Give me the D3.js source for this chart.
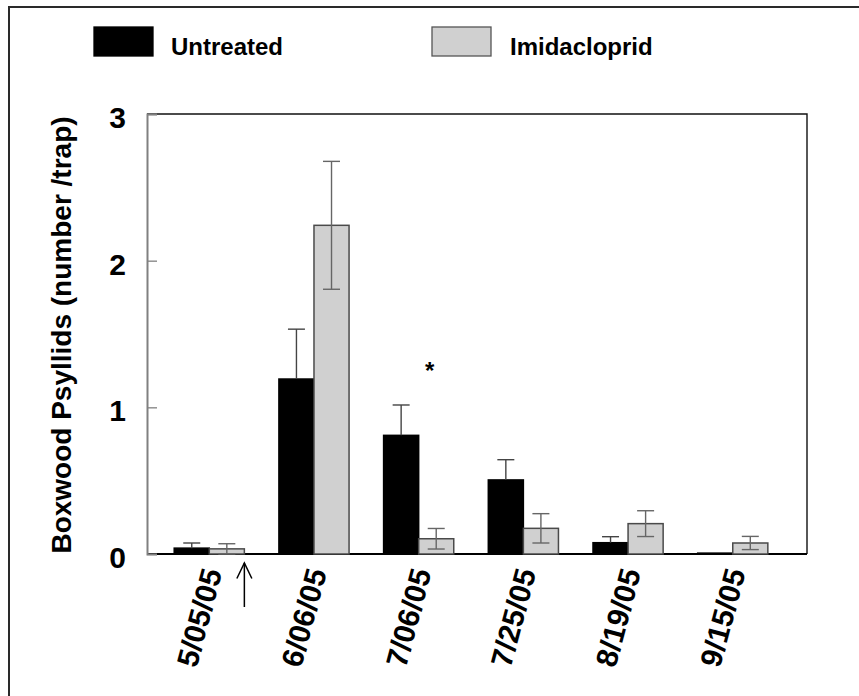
<!DOCTYPE html>
<html>
<head>
<meta charset="utf-8">
<script src="https://cdn.jsdelivr.net/npm/d3@7"></script>
<style>
  html, body { margin: 0; padding: 0; background: #fff; }
  svg { display: block; font-family: "Liberation Sans", Arial, sans-serif; }
</style>
</head>
<body>
<svg id="chart" width="859" height="696"></svg>
<script>
// Sampling dates (x categories)
const dates = ["5/05/05", "6/06/05", "7/06/05", "7/25/05", "8/19/05", "9/15/05"];
const seriesNames = ["Untreated", "Imidacloprid"];

// Mean psyllids per trap and standard errors
const untreated    = [0.04, 1.193, 0.809, 0.505, 0.077, 0.006];
const untreatedSE  = [0.035, 0.34, 0.207, 0.138, 0.041, 0];
const imidacloprid   = [0.035, 2.241, 0.104, 0.175, 0.207, 0.075];
const imidaclopridSE = [0.035, 0.436, 0.07, 0.10, 0.088, 0.045];

// Y axis ticks
const yTicks = [0, 1, 2, 3];

// Significance marker (date, height in y units)
const sigDate = "7/06/05";
const sigLevel = 1.28;
// Treatment arrow placed after this date's bars
const treatmentDate = "5/05/05";

const colors = { Untreated: "#000000", Imidacloprid: "#d0d0d0" };
const strokes = { Untreated: "#000000", Imidacloprid: "#4a4a4a" };
const errColors = { Untreated: "#444444", Imidacloprid: "#666666" };

const svg = d3.select("#chart");
const margin = { left: 147, top: 114 };
const W = 660, H = 440;

// Outer border
svg.append("path")
  .attr("d", "M9,700 L9,7 L865,7")
  .attr("fill", "none").attr("stroke", "#2a2a2a").attr("stroke-width", 2);

const g = svg.append("g").attr("transform", `translate(${margin.left},${margin.top})`);

const x = d3.scaleBand().domain(dates).range([0, W])
  .paddingInner(0.33).paddingOuter(0.317).align(0.41);
const x1 = d3.scaleBand().domain(seriesNames).range([0, x.bandwidth()]);
const y = d3.scaleLinear().domain([0, 3]).range([H, 0]);

const rows = dates.map((d, i) => ({
  date: d,
  vals: [
    { key: "Untreated", v: untreated[i], se: untreatedSE[i] },
    { key: "Imidacloprid", v: imidacloprid[i], se: imidaclopridSE[i] }
  ]
}));

// Plot frame (top / right / bottom)
g.append("path")
  .attr("d", `M0,0 H${W} V${H}`)
  .attr("fill", "none").attr("stroke", "#111").attr("stroke-width", 1.4);
g.append("line")
  .attr("x1", 0).attr("x2", W).attr("y1", H).attr("y2", H)
  .attr("stroke", "#000").attr("stroke-width", 2);

// Bars
const groups = g.selectAll("g.grp").data(rows).join("g")
  .attr("class", "grp")
  .attr("transform", d => `translate(${x(d.date)},0)`);

groups.selectAll("rect").data(d => d.vals).join("rect")
  .attr("x", d => x1(d.key))
  .attr("width", x1.bandwidth())
  .attr("y", d => y(d.v))
  .attr("height", d => y(0) - y(d.v))
  .attr("fill", d => colors[d.key])
  .attr("stroke", d => strokes[d.key])
  .attr("stroke-width", 1.5);

// Error bars (untreated only upward, the lower half is hidden in the black bar)
const capHalf = 8.5;
groups.selectAll("g.err").data(d => d.vals.filter(v => v.se > 0)).join("g")
  .attr("class", "err")
  .each(function (d) {
    const cx = x1(d.key) + x1.bandwidth() / 2;
    const hi = d.v + d.se;
    const lo = d.key === "Untreated" ? d.v : Math.max(0, d.v - d.se);
    const e = d3.select(this).attr("stroke", errColors[d.key]).attr("stroke-width", 1.4);
    e.append("line").attr("x1", cx).attr("x2", cx).attr("y1", y(hi)).attr("y2", y(lo));
    e.append("line").attr("x1", cx - capHalf).attr("x2", cx + capHalf).attr("y1", y(hi)).attr("y2", y(hi));
    if (d.key !== "Untreated") {
      e.append("line").attr("x1", cx - capHalf).attr("x2", cx + capHalf).attr("y1", y(lo)).attr("y2", y(lo));
    }
  });

// Y axis (ticks pointing inward)
const yAxis = g.append("g")
  .call(d3.axisLeft(y).tickValues(yTicks).tickFormat(d3.format("d")).tickSize(-10).tickPadding(31));
yAxis.select(".domain").attr("stroke", "#808080").attr("stroke-width", 2);
yAxis.selectAll(".tick line").attr("stroke", "#808080").attr("stroke-width", 1.3);
yAxis.selectAll(".tick text")
  .attr("x", -21)
  .attr("dy", "0.45em")
  .attr("fill", "#000")
  .style("font-size", "30px").style("font-weight", "bold");

// X axis labels, rotated
const xAxis = g.append("g").attr("transform", `translate(0,${H})`)
  .call(d3.axisBottom(x).tickSize(0));
xAxis.select(".domain").remove();
xAxis.selectAll(".tick text")
  .attr("text-anchor", "end")
  .attr("x", 0).attr("y", 0).attr("dy", 0)
  .attr("transform", "translate(13,18) rotate(-75)")
  .attr("fill", "#000")
  .style("font-size", "30px").style("font-weight", "bold");

// Y axis title
svg.append("text")
  .attr("transform", `translate(71,${margin.top + 221}) rotate(-90)`)
  .attr("text-anchor", "middle")
  .style("font-size", "28px").style("font-weight", "bold")
  .text("Boxwood Psyllids (number /trap)");

// Significance asterisk
g.append("text")
  .attr("x", x(sigDate) + x.bandwidth() / 2 + 11)
  .attr("y", y(sigLevel) + 13)
  .attr("text-anchor", "middle")
  .style("font-size", "24px").style("font-weight", "bold")
  .text("*");

// Treatment arrow
const ax = x(treatmentDate) + x.bandwidth();
const arrow = g.append("g").attr("stroke", "#000").attr("stroke-width", 1.5).attr("fill", "none");
arrow.append("line").attr("x1", ax).attr("x2", ax).attr("y1", H + 9).attr("y2", H + 53);
arrow.append("path").attr("d", `M${ax - 7.5},${H + 24.5} L${ax},${H + 9} L${ax + 7.5},${H + 24.5}`);

// Legend
const legend = svg.append("g");
const legendItems = [
  { key: "Untreated", bx: 94, tx: 171 },
  { key: "Imidacloprid", bx: 432, tx: 510 }
];
legendItems.forEach(it => {
  legend.append("rect")
    .attr("x", it.bx).attr("y", 27).attr("width", 59).attr("height", 29)
    .attr("fill", colors[it.key])
    .attr("stroke", it.key === "Untreated" ? "#000" : "#555").attr("stroke-width", 1.3);
  legend.append("text")
    .attr("x", it.tx).attr("y", 55)
    .style("font-size", "24px").style("font-weight", "bold")
    .text(it.key);
});
</script>
</body>
</html>
